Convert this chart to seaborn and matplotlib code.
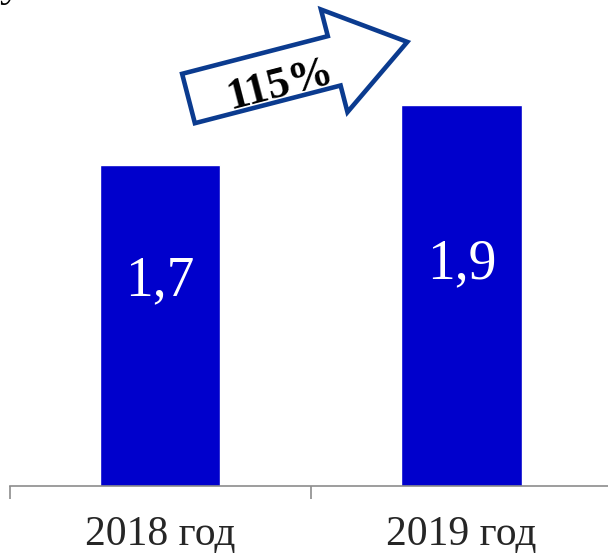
import matplotlib
matplotlib.use("Agg")
import matplotlib.pyplot as plt
import seaborn as sns
import pandas as pd
from matplotlib.patches import Polygon
from matplotlib.transforms import Affine2D

# ---- data ----
years = ["2018 год", "2019 год"]
values = [1.7, 1.9]
value_labels = ["1,7", "1,9"]
growth_label = "115%"
title_fragment = "у"

BAR_COLOR = "#0000CC"
ARROW_COLOR = "#0B3B8F"
AXIS_COLOR = "#8C8C8C"

sns.set_theme(style="white")
plt.rcParams['font.family'] = ['Liberation Serif', 'DejaVu Serif']

W, H = 608, 557
fig = plt.figure(figsize=(W / 100, H / 100), dpi=100)
fig.patch.set_facecolor("white")
ax = fig.add_axes([9.5 / W, 71 / H, 602.5 / W, 486 / H])

df = pd.DataFrame({"year": years, "value": values})
sns.barplot(data=df, x="year", y="value", color=BAR_COLOR, width=0.4,
            saturation=1, ax=ax)
ax.set_xlim(-0.5, 1.5)
ax.set_ylim(0.63, 2.25)
ax.set_xlabel("")
ax.set_ylabel("")
ax.set_yticks([])
for s in ["top", "right", "left"]:
    ax.spines[s].set_visible(False)
ax.spines["bottom"].set_color(AXIS_COLOR)
ax.spines["bottom"].set_linewidth(1.2)
ax.set_facecolor("white")

# category labels without tick marks; tick marks at category boundaries
ax.set_xticks(range(len(years)))
ax.set_xticklabels(years, fontsize=30)
ax.tick_params(axis="x", which="major", length=0, pad=21, bottom=True)
ax.set_xticks([-0.5, 0.5, 1.5], minor=True)
ax.tick_params(axis="x", which="minor", length=9, width=1.2, color=AXIS_COLOR,
               direction="out", bottom=True)

# value labels inside bars
label_y = [1.267, 1.323]
for i, (lab, yy) in enumerate(zip(value_labels, label_y)):
    ax.text(i, yy, lab, ha="center", va="baseline", color="white", fontsize=40)

# growth arrow
h, Hh, Ls, L = 0.255, 0.53, 1.505, 2.26
pts = [(0, -h), (Ls, -h), (Ls, -Hh), (L, 0), (Ls, Hh), (Ls, h), (0, h)]
tr = Affine2D().rotate_deg(14.5).translate(1.885, 4.585) + fig.dpi_scale_trans
arrow = Polygon(pts, closed=True, facecolor="white", edgecolor=ARROW_COLOR,
                linewidth=3.3, joinstyle="miter", transform=tr)
fig.add_artist(arrow)
fig.text(2.80, 4.72, growth_label, transform=fig.dpi_scale_trans, rotation=14.5,
         rotation_mode="anchor", ha="center", va="center", fontsize=32,
         fontweight="bold", color="black")

# cut-off title fragment at top-left
fig.text(0.0, 5.61, title_fragment, transform=fig.dpi_scale_trans,
         ha="left", va="baseline", fontsize=32, color="black")

fig.savefig("out.png", dpi=100)
